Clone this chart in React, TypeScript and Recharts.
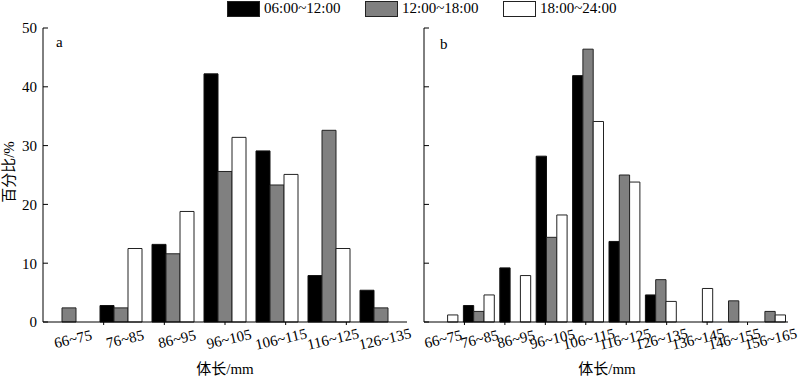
import React from "react";
import { BarChart, Bar, XAxis, YAxis } from "recharts";

const FONT = "'Liberation Serif', 'Noto Sans CJK SC', serif";

// panel a
const categoriesA = ["66~75", "76~85", "86~95", "96~105", "106~115", "116~125", "126~135"];
const morningA = [0, 2.8, 13.2, 42.2, 29.1, 7.9, 5.4];
const afternoonA = [2.4, 2.4, 11.6, 25.6, 23.3, 32.6, 2.4];
const eveningA = [0, 12.5, 18.8, 31.4, 25.1, 12.5, 0];

// panel b
const categoriesB = ["66~75", "76~85", "86~95", "96~105", "106~115", "116~125", "126~135", "136~145", "146~155", "156~165"];
const morningB = [0, 2.8, 9.2, 28.2, 41.9, 13.7, 4.6, 0, 0, 0];
const afternoonB = [0, 1.8, 0, 14.4, 46.4, 25.0, 7.2, 0, 3.6, 1.8];
const eveningB = [1.2, 4.6, 7.9, 18.2, 34.1, 23.8, 3.5, 5.7, 0, 1.2];

const yTicks = [0, 10, 20, 30, 40, 50];

const seriesNames = ["06:00~12:00", "12:00~18:00", "18:00~24:00"];
const seriesFills = ["#000000", "#808080", "#ffffff"];

const X_AXIS_H = 56;

function buildRows(cats: string[], a: number[], b: number[], c: number[]) {
  return cats.map((name, i) => ({ name, morning: a[i], afternoon: b[i], evening: c[i] }));
}

function TiltedTick({ x, y, payload, dx }: any) {
  const cx = x + dx;
  const cy = y + 9;
  return (
    <text
      x={cx}
      y={cy}
      textAnchor="middle"
      dominantBaseline="central"
      fontSize={15}
      fontFamily={FONT}
      fill="#000"
      transform={`rotate(-13, ${cx}, ${cy})`}
    >
      {payload.value}
    </text>
  );
}

// keeps the tick line, draws no label
const NoLabel = () => <g />;

interface PanelProps {
  rows: any[];
  left: number;
  width: number;
  margin: { top: number; right: number; left: number; bottom: number };
  yWidth: number;
  showYLabels: boolean;
  barSize: number;
  labelDx: number;
}

function Panel({ rows, left, width, margin, yWidth, showYLabels, barSize, labelDx }: PanelProps) {
  const n = rows.length;
  const edges = rows.map((_, i) => i + 1);
  return (
    <div style={{ position: "absolute", left, top: 0 }}>
      <BarChart width={width} height={379} data={rows} margin={margin} barGap={0} barSize={barSize}>
        <XAxis
          dataKey="name"
          height={X_AXIS_H}
          interval={0}
          tickLine={false}
          axisLine={{ stroke: "#000" }}
          tick={<TiltedTick dx={labelDx} />}
        />
        {/* small marks at the class boundaries: this axis sits below the labels,
            its tick lines reach up to the plot and only the top 3px are drawn */}
        <XAxis
          xAxisId="edge"
          type="number"
          domain={[0, n]}
          ticks={edges}
          height={1}
          tick={NoLabel}
          tickSize={-X_AXIS_H}
          axisLine={false}
          tickLine={{ stroke: "#000", strokeDasharray: "3 200" }}
        />
        <YAxis
          domain={[0, 50]}
          ticks={yTicks}
          width={yWidth}
          tickSize={-5}
          tickMargin={showYLabels ? 11 : 0}
          tick={showYLabels ? { fontSize: 15, fontFamily: FONT, fill: "#000" } : NoLabel}
          axisLine={{ stroke: "#000" }}
          tickLine={{ stroke: "#000" }}
        />
        <Bar dataKey="morning" fill={seriesFills[0]} stroke="#111" strokeWidth={1} isAnimationActive={false} />
        <Bar dataKey="afternoon" fill={seriesFills[1]} stroke="#222" strokeWidth={1} isAnimationActive={false} />
        <Bar dataKey="evening" fill={seriesFills[2]} stroke="#222" strokeWidth={1} isAnimationActive={false} />
      </BarChart>
    </div>
  );
}

const text: React.CSSProperties = {
  position: "absolute",
  fontFamily: FONT,
  fontSize: 15,
  lineHeight: "16px",
  color: "#000",
  whiteSpace: "nowrap",
};

export default function App() {
  const rowsA = buildRows(categoriesA, morningA, afternoonA, eveningA);
  const rowsB = buildRows(categoriesB, morningB, afternoonB, eveningB);
  const legendX = [227, 365, 503];

  return (
    <div style={{ position: "absolute", left: 0, top: 0, width: 800, height: 379, background: "#fff", overflow: "hidden" }}>
      <Panel
        rows={rowsA}
        left={0}
        width={420}
        margin={{ top: 28, right: 13, left: 8, bottom: 0 }}
        yWidth={35}
        showYLabels
        barSize={14}
        labelDx={4}
      />
      <Panel
        rows={rowsB}
        left={400}
        width={400}
        margin={{ top: 28, right: 12, left: 0, bottom: 0 }}
        yWidth={24}
        showYLabels={false}
        barSize={10.3}
        labelDx={1}
      />

      {/* legend */}
      {seriesNames.map((name, i) => (
        <React.Fragment key={name}>
          <div
            style={{
              position: "absolute",
              left: legendX[i],
              top: 1,
              width: 31,
              height: 14,
              background: seriesFills[i],
              border: "1px solid #222",
            }}
          />
          <div style={{ ...text, left: legendX[i] + 37, top: 0 }}>{name}</div>
        </React.Fragment>
      ))}

      <div style={{ ...text, left: 56, top: 34 }}>a</div>
      <div style={{ ...text, left: 440, top: 36 }}>b</div>

      <div style={{ ...text, left: 170, top: 361, width: 110, textAlign: "center" }}>体长/mm</div>
      <div style={{ ...text, left: 552, top: 361, width: 110, textAlign: "center" }}>体长/mm</div>

      <div
        style={{
          ...text,
          left: -36,
          top: 164,
          width: 90,
          textAlign: "center",
          transform: "rotate(-90deg)",
        }}
      >
        百分比/%
      </div>
    </div>
  );
}
